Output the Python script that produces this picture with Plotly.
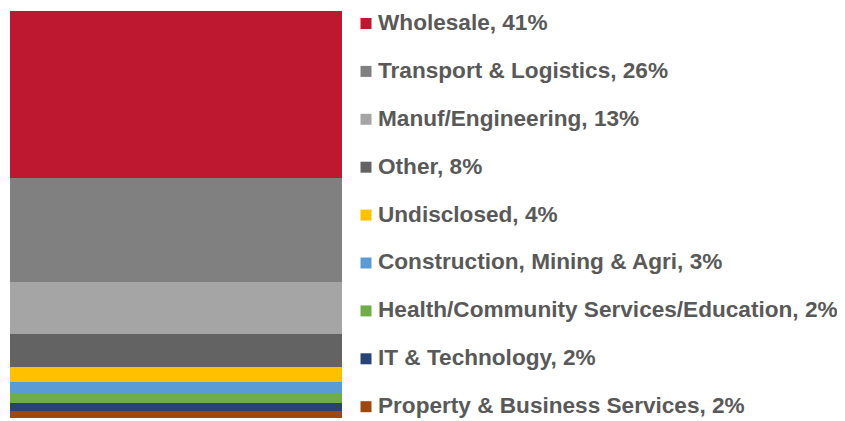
import plotly.graph_objects as go

# Parts du portefeuille par secteur (une seule barre empilée)
sectors = ["Wholesale", "Transport & Logistics", "Manuf/Engineering", "Other",
           "Undisclosed", "Construction, Mining & Agri",
           "Health/Community Services/Education", "IT & Technology",
           "Property & Business Services"]
shares = [41.0, 25.6, 12.8, 8.1, 3.7, 2.9, 2.3, 2.0, 1.7]
colors = ["#BE1730", "#808080", "#A5A5A5", "#636363", "#FFC000",
          "#5B9BD5", "#70AD47", "#264478", "#9E480E"]

# la page HTML ajoute une marge de 8 px autour de la figure
OFF = 8
W, H = 845, 421
L, T = 10 - OFF, 11 - OFF
plot_w, plot_h = 332, 407
R, B = W - L - plot_w, H - T - plot_h

fig = go.Figure()

# on empile du bas vers le haut -> ordre inversé
for name, val, col in reversed(list(zip(sectors, shares, colors))):
    fig.add_trace(go.Bar(
        x=[0], y=[val], name=name,
        marker_color=col, marker_line_width=0,
        showlegend=False, hoverinfo="name",
    ))

# Légende faite à la main (carré + texte) à droite de la barre
for i, (name, val, col) in enumerate(zip(sectors, shares, colors)):
    y_px = 22.5 + i * 47.9 - OFF
    y_paper = (T + plot_h - y_px) / plot_h
    fig.add_annotation(
        x=(376 - OFF - L) / plot_w, y=y_paper, xref="paper", yref="paper",
        xanchor="left", yanchor="middle", showarrow=False,
        text=f"{name}, {round(val)}%",
        font=dict(family="Liberation Sans, Arial", size=22.6,
                  color="#595959", weight="bold"),
    )
    fig.add_shape(
        type="rect", xref="paper", yref="paper",
        xsizemode="pixel", ysizemode="pixel",
        xanchor=(366 - OFF - L) / plot_w, yanchor=y_paper - 1 / plot_h,
        x0=-5.5, x1=5.5, y0=-5.5, y1=5.5,
        fillcolor=col, line_width=0,
    )

fig.update_layout(
    barmode="stack", bargap=0,
    width=W, height=H,
    margin=dict(l=L, r=R, t=T, b=B),
    plot_bgcolor="white", paper_bgcolor="white",
    xaxis=dict(visible=False, range=[-0.5, 0.5]),
    yaxis=dict(visible=False, range=[0, sum(shares)]),
    font=dict(family="Liberation Sans, Arial"),
)

fig.write_html("out.html")
